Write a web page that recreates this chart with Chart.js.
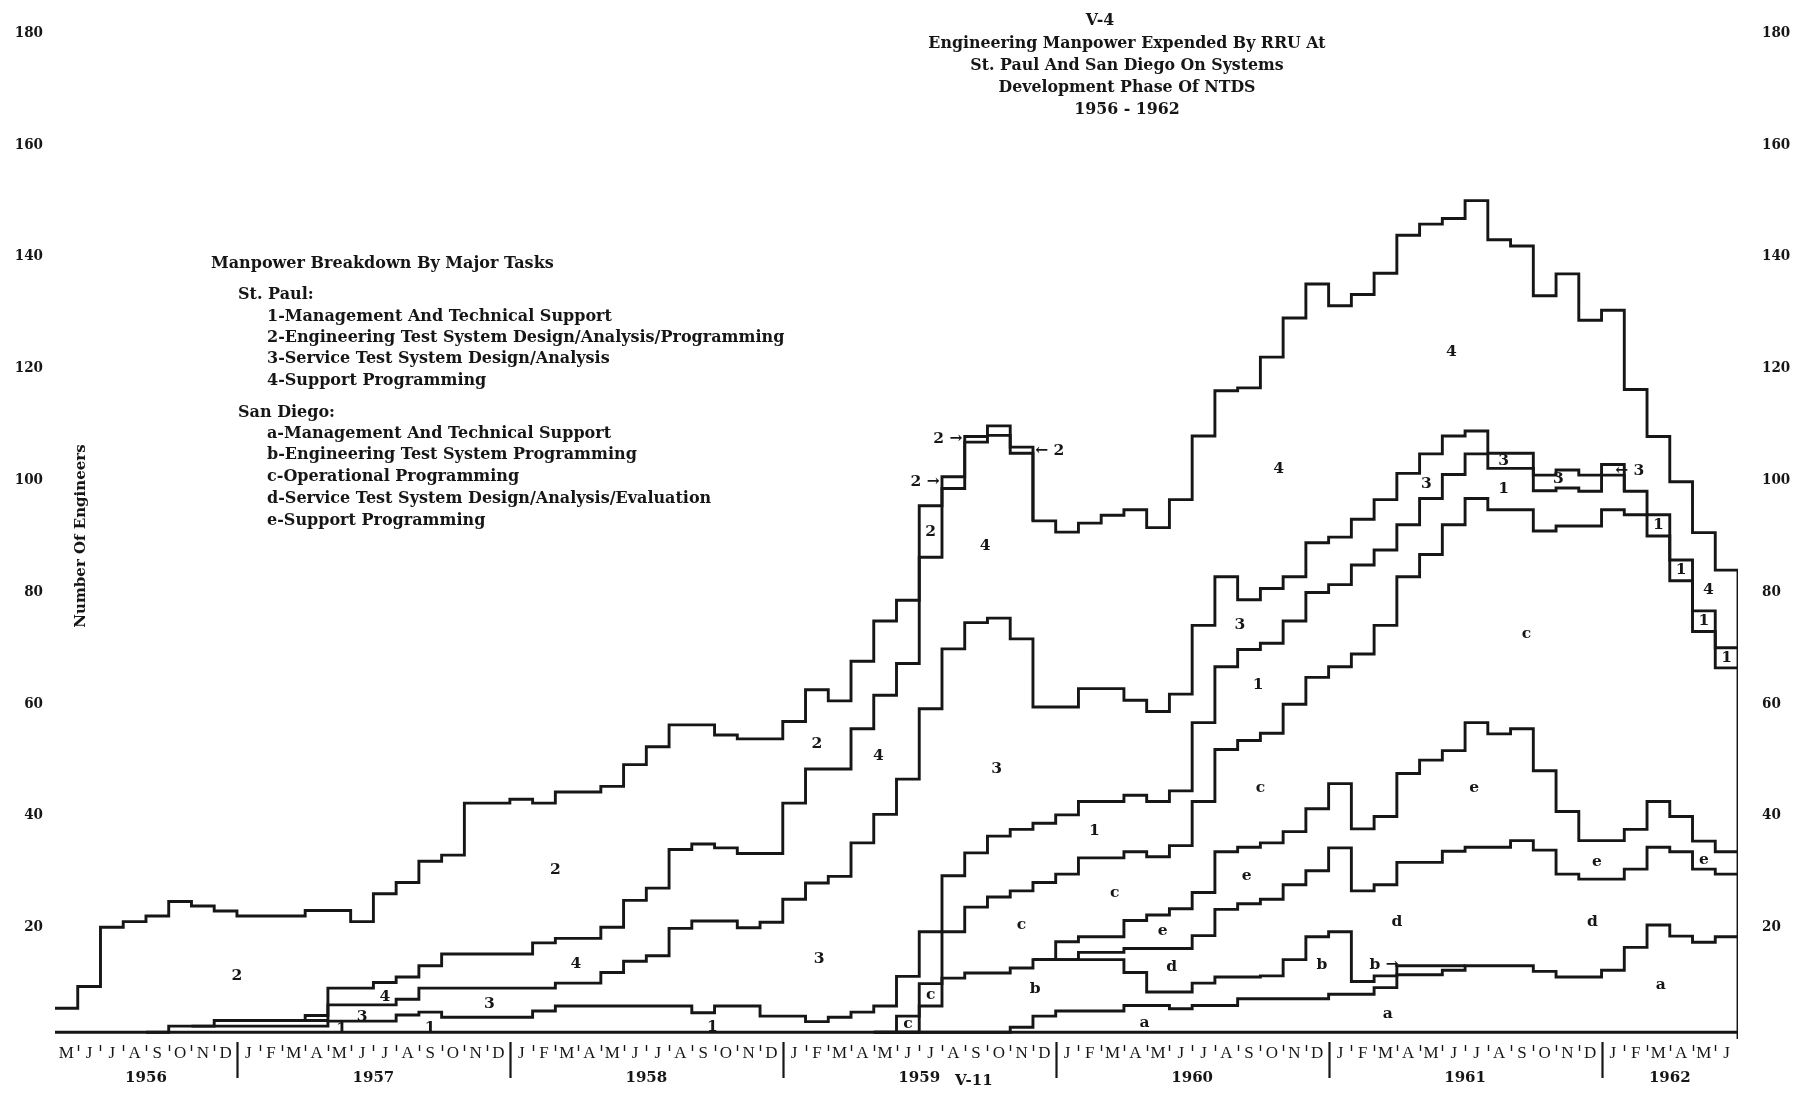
<!DOCTYPE html>
<html>
<head>
<meta charset="utf-8">
<title>V-4 Engineering Manpower Expended By RRU</title>
<script src="https://cdn.jsdelivr.net/npm/chart.js@4.4.1/dist/chart.umd.min.js"></script>
<style>
  html, body { margin: 0; padding: 0; background: #fff; overflow: hidden; }
  #wrap { width: 1807px; height: 1095px; position: relative; }
</style>
</head>
<body>
<div id="wrap"><canvas id="chart"></canvas></div>
<script>
// one entry per month, May 1956 .. June 1962 (74 months)
const monthLetters = [
  'M','J','J','A','S','O','N','D',
  'J','F','M','A','M','J','J','A','S','O','N','D',
  'J','F','M','A','M','J','J','A','S','O','N','D',
  'J','F','M','A','M','J','J','A','S','O','N','D',
  'J','F','M','A','M','J','J','A','S','O','N','D',
  'J','F','M','A','M','J','J','A','S','O','N','D',
  'J','F','M','A','M','J'
];
const yearLabels = ['1956', '1957', '1958', '1959', '1960', '1961', '1962'];
const monthsPerYear = [8, 12, 12, 12, 12, 12, 6];
const yTicks = [20, 40, 60, 80, 100, 120, 140, 160, 180];

// cumulative boundaries (number of engineers)
const total = [
  5.5, 9.4, 20, 21, 22, 24.6, 23.8, 22.9,
  22, 22, 22, 23, 23, 21, 26, 28, 31.8, 32.9, 42.2, 42.2,
  42.9, 42.2, 44.2, 44.2, 45.2, 49.1, 52.3, 56.2, 56.2, 54.4, 53.7, 53.7,
  56.8, 62.5, 60.5, 67.6, 74.8, 78.5, 95.4, 100.6, 107.8, 109.7, 105.9, 92.7,
  90.7, 92.3, 93.7, 94.7, 91.5, 96.5, 107.9, 116, 116.5, 122, 129, 135.1,
  131.2, 133.2, 137, 143.8, 145.8, 146.8, 150, 143, 141.9, 133, 136.9, 128.6,
  130.4, 116.2, 107.8, 99.7, 90.6, 83.9
];
// St. Paul 4 (top of area 4)
const top4 = [
  null, null, null, null, null, null, null, null,
  null, null, 3.3, 4.2, 9.1, 9.1, 10.1, 11.1, 13.1, 15.2, 15.2, 15.2,
  15.2, 17.2, 18.0, 18.0, 20.0, 24.8, 27.0, 33.9, 34.9, 34.2, 33.2, 33.2,
  42.2, 48.3, 48.3, 55.5, 61.5, 67.2, 86.2, 98.5, 106.8, 108.0, 104.8, 92.7,
  null, null, null, null, null, null, null, null, null, null, null, null,
  null, null, null, null, null, null, null, null, null, null, null, null,
  null, null, null, null, null, null
];
// St. Paul 3 (top of area 3)
const top3 = [
  null, null, null, null, null, null, 2.3, 3.3,
  3.3, 3.3, 3.3, 3.3, 6.1, 6.1, 6.1, 7.1, 9.1, 9.1, 9.1, 9.1,
  9.1, 9.1, 10.0, 10.0, 11.9, 13.9, 14.9, 19.8, 21.1, 21.1, 19.9, 20.9,
  25.0, 27.9, 29.1, 35.1, 40.2, 46.5, 59.1, 69.8, 74.5, 75.3, 71.6, 59.4,
  59.4, 62.7, 62.7, 60.6, 58.6, 61.7, 74.0, 82.7, 78.6, 80.6, 82.7, 88.8,
  89.8, 93.0, 96.5, 101.2, 104.7, 107.9, 108.8, 104.8, 104.8, 100.9, 101.8, 100.9,
  102.8, 98.0, null, null, null, null
];
// St. Paul 1 (top of area 1)
const top1 = [
  null, null, null, null, 1.2, 2.3, 2.3, 2.3,
  2.3, 2.3, 2.3, 2.3, 3.2, 3.2, 3.2, 4.3, 4.8, 3.9, 3.9, 3.9,
  3.9, 5.0, 5.9, 5.9, 5.9, 5.9, 5.9, 5.9, 4.7, 5.9, 5.9, 4.1,
  4.1, 3.1, 3.9, 4.8, 5.9, 11.2, 19.2, 29.2, 33.3, 36.3, 37.5, 38.6,
  40.1, 42.5, 42.5, 43.6, 42.5, 44.4, 56.6, 66.6, 69.7, 70.8, 74.8, 79.9,
  81.3, 84.8, 87.5, 92.0, 96.7, 101.0, 104.7, 102.1, 102.1, 98.1, 98.6, 98.0,
  100.9, 98.0, 93.8, 85.7, 76.6, 70.0
];
// San Diego c (top of area c)
const topC = [
  null, null, null, null, null, null, null, null,
  null, null, null, null, null, null, null, null, null, null, null, null,
  null, null, null, null, null, null, null, null, null, null, null, null,
  null, null, null, null, 1.2, 4.1, 9.9, 19.2, 23.6, 25.4, 26.5, 28.0,
  29.5, 32.4, 32.4, 33.5, 32.6, 34.6, 42.5, 51.8, 53.4, 54.7, 59.9, 64.7,
  66.6, 68.9, 74.0, 82.7, 86.7, 92.0, 96.7, 94.7, 94.7, 90.9, 91.8, 91.8,
  94.7, 93.8, 90.0, 82.0, 72.9, 66.4
];
// San Diego e (top of area e)
const topE = [
  null, null, null, null, null, null, null, null,
  null, null, null, null, null, null, null, null, null, null, null, null,
  null, null, null, null, null, null, null, null, null, null, null, null,
  null, null, null, null, null, null, null, null, null, null, null, 14.2,
  17.4, 18.3, 18.3, 21.2, 22.2, 23.3, 26.2, 33.5, 34.3, 35.1, 37.1, 41.2,
  45.7, 37.6, 39.8, 47.5, 49.9, 51.6, 56.6, 54.6, 55.5, 48.0, 40.7, 35.5,
  35.5, 37.5, 42.5, 39.8, 35.4, 33.5
];
// San Diego d (top of area d)
const topD = [
  null, null, null, null, null, null, null, null,
  null, null, null, null, null, null, null, null, null, null, null, null,
  null, null, null, null, null, null, null, null, null, null, null, null,
  null, null, null, null, null, null, null, null, null, null, null, 14.2,
  14.2, 15.5, 15.5, 16.2, 16.2, 16.2, 18.5, 23.2, 24.2, 25.0, 27.6, 30.1,
  34.2, 26.5, 27.6, 31.6, 31.6, 33.6, 34.3, 34.3, 35.5, 33.8, 29.5, 28.6,
  28.6, 30.4, 34.3, 33.5, 30.4, 29.5
];
// San Diego b (top of area b)
const topB = [
  null, null, null, null, null, null, null, null,
  null, null, null, null, null, null, null, null, null, null, null, null,
  null, null, null, null, null, null, null, null, null, null, null, null,
  null, null, null, null, 1.2, 1.2, 5.9, 10.9, 11.8, 11.8, 12.7, 14.2,
  14.2, 14.2, 14.2, 11.9, 8.4, 8.4, 10.0, 11.1, 11.1, 11.3, 14.2, 18.3,
  19.2, 10.3, 11.3, 13.1, 13.1, 13.1, 13.1, null, null, null, null, null,
  null, null, null, null, null, null
];
// San Diego a (top of area a)
const topA = [
  null, null, null, null, null, null, null, null,
  null, null, null, null, null, null, null, null, null, null, null, null,
  null, null, null, null, null, null, null, null, null, null, null, null,
  null, null, null, null, null, 1.2, 1.2, 1.2, 1.2, 1.2, 2.1, 4.1,
  5.0, 5.0, 5.0, 6.0, 6.0, 5.4, 6.0, 6.0, 7.2, 7.2, 7.2, 7.2,
  8.0, 8.0, 9.2, 11.5, 11.5, 12.3, 13.1, 13.1, 13.1, 12.1, 11.1, 11.1,
  12.3, 16.4, 20.4, 18.4, 17.3, 18.3
];
const baseLine = monthLetters.map(() => 1.2);

// area labels: month position, value
const regionLabels = [
  { t: '2', m: 8.0, v: 11.2 }, { t: '4', m: 14.5, v: 7.6 }, { t: '3', m: 13.5, v: 4.0 },
  { t: '1', m: 12.6, v: 1.8 }, { t: '1', m: 16.5, v: 1.9 }, { t: '3', m: 19.1, v: 6.3 },
  { t: '4', m: 22.9, v: 13.4 }, { t: '2', m: 22.0, v: 30.2 }, { t: '1', m: 28.9, v: 2.2 },
  { t: '3', m: 33.6, v: 14.3 }, { t: '2', m: 33.5, v: 52.7 }, { t: '4', m: 36.2, v: 50.6 },
  { t: 'c', m: 37.5, v: 2.7 }, { t: 'c', m: 38.5, v: 7.9 }, { t: '2', m: 38.5, v: 90.8 },
  { t: '2 →', m: 38.9, v: 99.6, align: 'right' }, { t: '2 →', m: 39.9, v: 107.3, align: 'right' },
  { t: '← 2', m: 43.1, v: 105.3, align: 'left' },
  { t: '4', m: 40.9, v: 88.2 }, { t: '3', m: 41.4, v: 48.4 }, { t: 'b', m: 43.1, v: 9.0 },
  { t: 'c', m: 42.5, v: 20.4 }, { t: '1', m: 45.7, v: 37.3 }, { t: 'c', m: 46.6, v: 26.1 },
  { t: 'e', m: 48.7, v: 19.4 }, { t: 'd', m: 49.1, v: 12.9 }, { t: 'a', m: 47.9, v: 2.9 },
  { t: '3', m: 52.1, v: 74.1 }, { t: '1', m: 52.9, v: 63.3 }, { t: 'c', m: 53.0, v: 44.9 },
  { t: 'e', m: 52.4, v: 29.2 }, { t: '4', m: 53.8, v: 102 }, { t: 'b', m: 55.7, v: 13.3 },
  { t: 'b →', m: 57.8, v: 13.3, align: 'left' }, { t: 'd', m: 59.0, v: 21.0 },
  { t: 'a', m: 58.6, v: 4.5 }, { t: '3', m: 60.3, v: 99.3 }, { t: '4', m: 61.4, v: 123 },
  { t: 'e', m: 62.4, v: 44.9 }, { t: '1', m: 63.7, v: 98.4 }, { t: '3', m: 63.7, v: 103.5 },
  { t: 'c', m: 64.7, v: 72.4 }, { t: '3', m: 66.1, v: 100.2 },
  { t: '← 3', m: 68.6, v: 101.6, align: 'left' },
  { t: 'd', m: 67.6, v: 21.0 }, { t: 'e', m: 67.8, v: 31.6 }, { t: 'a', m: 70.6, v: 9.6 },
  { t: 'e', m: 72.5, v: 32 }, { t: '4', m: 72.7, v: 80.4 },
  { t: '1', m: 70.5, v: 91.9 }, { t: '1', m: 71.5, v: 83.9 }, { t: '1', m: 72.5, v: 74.8 },
  { t: '1', m: 73.5, v: 68.2 }
];

const titleLines = [
  'Engineering Manpower Expended By RRU At',
  'St. Paul And San Diego On Systems',
  'Development Phase Of NTDS',
  '1956 - 1962'
];
const legendLines = [
  'Manpower Breakdown By Major Tasks',
  'St. Paul:',
  '1-Management And Technical Support',
  '2-Engineering Test System Design/Analysis/Programming',
  '3-Service Test System Design/Analysis',
  '4-Support Programming',
  'San Diego:',
  'a-Management And Technical Support',
  'b-Engineering Test System Programming',
  'c-Operational Programming',
  'd-Service Test System Design/Analysis/Evaluation',
  'e-Support Programming'
];

const ink = '#161616';
const serif = "'DejaVu Serif', serif";

// month i drawn over [i, i+1]; extra point closes the last month
function toPoints(arr, endValue) {
  const pts = arr.map((v, i) => ({ x: i, y: v }));
  const last = arr[arr.length - 1];
  if (last !== null) pts.push({ x: arr.length, y: endValue !== undefined ? endValue : last });
  return pts;
}

function stepLine(label, arr, endValue) {
  return {
    label: label,
    data: toPoints(arr, endValue),
    stepped: true,
    borderColor: ink,
    borderWidth: 2.9,
    borderJoinStyle: 'miter',
    pointRadius: 0,
    fill: false,
    spanGaps: false
  };
}

const annotations = {
  id: 'annotations',
  afterDatasetsDraw(chart) {
    const { ctx, scales: { x, y } } = chart;
    ctx.save();
    ctx.fillStyle = ink;
    ctx.strokeStyle = ink;
    ctx.textBaseline = 'middle';

    // area labels
    ctx.font = 'bold 15.5px ' + serif;
    regionLabels.forEach(l => {
      ctx.textAlign = l.align || 'center';
      ctx.fillText(l.t, x.getPixelForValue(l.m), y.getPixelForValue(l.v));
    });

    // month letters
    ctx.font = "17px 'Liberation Serif', serif";
    ctx.textAlign = 'center';
    monthLetters.forEach((m, i) => ctx.fillText(m, x.getPixelForValue(i + 0.5), 1054));

    // month ticks and year separators
    const yearEnds = [];
    let acc = 0;
    monthsPerYear.forEach(n => { acc += n; yearEnds.push(acc); });
    for (let m = 1; m < monthLetters.length; m++) {
      const px = Math.round(x.getPixelForValue(m)) + 0.5;
      ctx.beginPath();
      if (yearEnds.includes(m)) {
        ctx.lineWidth = 2.2;
        ctx.moveTo(px, 1042);
        ctx.lineTo(px, 1078);
      } else {
        ctx.lineWidth = 1.4;
        ctx.moveTo(px, 1045);
        ctx.lineTo(px, 1051);
      }
      ctx.stroke();
    }

    // year labels
    ctx.font = 'bold 15px ' + serif;
    let start = 0;
    yearLabels.forEach((yl, i) => {
      const mid = start + monthsPerYear[i] / 2;
      ctx.fillText(yl, x.getPixelForValue(mid), 1078);
      start += monthsPerYear[i];
    });
    ctx.fillText('V-11', x.getPixelForValue(40.4), 1081);

    // title block
    ctx.font = 'bold 15.8px ' + serif;
    ctx.fillText('V-4', 1100, 21);
    titleLines.forEach((t, i) => ctx.fillText(t, 1127, 44 + i * 22));

    // legend block
    ctx.textAlign = 'left';
    ctx.font = 'bold 16px ' + serif;
    const legendY = [264, 295, 317, 338, 359, 381, 413, 434, 455, 477, 499, 521];
    legendLines.forEach((t, i) => {
      let lx = 267;
      if (i === 0) lx = 211;
      if (i === 1 || i === 6) lx = 238;
      ctx.fillText(t, lx, legendY[i]);
    });

    // y axis title
    ctx.save();
    ctx.translate(81, 536);
    ctx.rotate(-Math.PI / 2);
    ctx.textAlign = 'center';
    ctx.font = 'bold 15px ' + serif;
    ctx.fillText('Number Of Engineers', 0, 0);
    ctx.restore();

    ctx.restore();
  }
};

const tickFont = { family: "'DejaVu Serif Condensed', 'DejaVu Serif', serif", size: 15, weight: 'bold' };

new Chart(document.getElementById('chart').getContext('2d'), {
  type: 'line',
  data: {
    datasets: [
      stepLine('base', baseLine),
      stepLine('a', topA),
      stepLine('b', topB),
      stepLine('d', topD),
      stepLine('e', topE),
      stepLine('c', topC),
      stepLine('1', top1),
      stepLine('3', top3),
      stepLine('4', top4),
      stepLine('total', total, 0)
    ]
  },
  options: {
    responsive: true,
    maintainAspectRatio: false,
    animation: false,
    layout: { padding: { top: 23, bottom: 56 } },
    plugins: { legend: { display: false }, tooltip: { enabled: false } },
    scales: {
      x: { type: 'linear', min: 0, max: 74, display: false },
      y: {
        position: 'left', min: 0, max: 180,
        afterFit: s => { s.width = 55; },
        afterBuildTicks: s => { s.ticks = yTicks.map(v => ({ value: v })); },
        grid: { display: false, drawTicks: false },
        border: { display: false },
        ticks: { color: ink, font: tickFont, padding: 12 }
      },
      y2: {
        position: 'right', min: 0, max: 180,
        afterFit: s => { s.width = 69; },
        afterBuildTicks: s => { s.ticks = yTicks.map(v => ({ value: v })); },
        grid: { display: false, drawTicks: false },
        border: { display: false },
        ticks: { color: ink, font: tickFont, padding: 24 }
      }
    }
  },
  plugins: [annotations]
});
</script>
</body>
</html>
